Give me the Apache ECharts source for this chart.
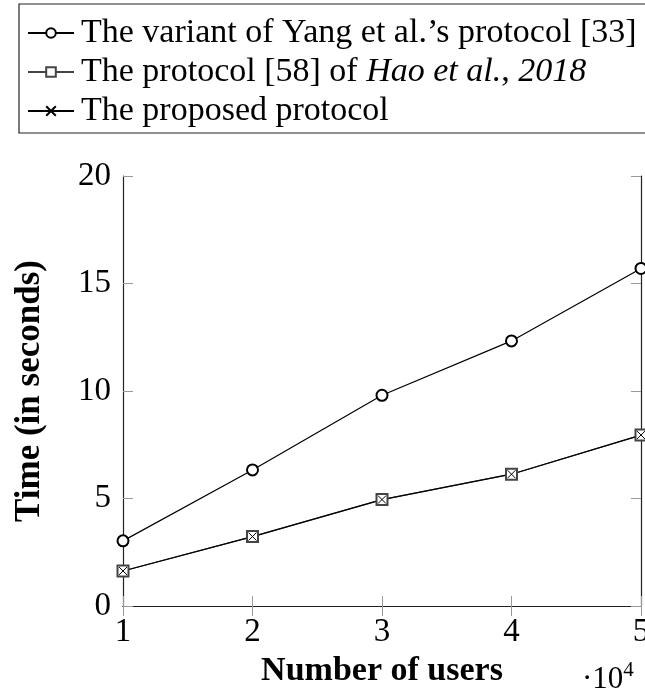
<!DOCTYPE html>
<html>
<head>
<meta charset="utf-8">
<script src="https://cdn.jsdelivr.net/npm/echarts@6/dist/echarts.min.js"></script>
<style>
  html, body { margin: 0; padding: 0; background: #fff; }
  #chart { width: 645px; height: 696px; }
</style>
</head>
<body>
<div id="chart"></div>
<script>
// 用户数 (x 10^4)
var users = [1, 2, 3, 4, 5];
var yangTimes = [3.03, 6.33, 9.8, 12.33, 15.7];
var haoTimes = [1.63, 3.23, 4.95, 6.13, 7.95];
var proposedTimes = [1.63, 3.23, 4.95, 6.13, 7.95];
var seriesNames = [
    "The variant of Yang et al.’s protocol [33]",
    "The protocol [58] of Hao et al., 2018",
    "The proposed protocol"
];
var yTicks = [0, 5, 10, 15, 20];

var serif = "Liberation Serif";

function pairs(xs, ys) {
    var out = [];
    for (var i = 0; i < xs.length; i++) {
        out.push([xs[i], ys[i]]);
    }
    return out;
}

var chart = echarts.init(document.getElementById('chart'), null, {renderer: 'canvas'});

var tickStyle = {show: true, inside: true, length: 10, lineStyle: {color: '#999', width: 1}};
var lineAxis = {show: true, lineStyle: {color: '#222', width: 1.2}};

chart.setOption({
    backgroundColor: '#fff',
    animation: false,
    grid: {left: 123, right: 4, top: 176, bottom: 90, containLabel: false, outerBoundsMode: 'none'},
    legend: {
        orient: 'vertical',
        left: 27,
        top: 16,
        itemWidth: 46,
        itemHeight: 12,
        itemGap: 5,
        padding: 0,
        data: seriesNames,
        textStyle: {
            fontFamily: serif, fontSize: 34, lineHeight: 34, color: '#000', padding: [0, 0, 0, 2],
            rich: {
                n: {fontFamily: serif, fontSize: 34, lineHeight: 34, color: '#000'},
                i: {fontFamily: serif, fontSize: 34, lineHeight: 34, color: '#000', fontStyle: 'italic'}
            }
        },
        formatter: function (name) {
            if (name === seriesNames[1]) {
                return '{n|The protocol [58] of }{i|Hao et al.}{n|, }{i|2018}';
            }
            return name;
        }
    },
    graphic: [
        {
            type: 'rect',
            shape: {x: 19, y: 4, width: 700, height: 129},
            style: {fill: 'none', stroke: '#222', lineWidth: 1.2},
            silent: true
        },
        {
            type: 'text',
            left: 582,
            top: 660,
            style: {
                text: '{d|·10}{s|4}',
                rich: {
                    d: {fontFamily: serif, fontSize: 31, fill: '#000', verticalAlign: 'bottom'},
                    s: {fontFamily: serif, fontSize: 21, fill: '#000', verticalAlign: 'top', padding: [0, 0, 14, 0]}
                }
            }
        }
    ],
    xAxis: [
        {
            type: 'value',
            min: 1,
            max: 5,
            interval: 1,
            name: 'Number of users',
            nameLocation: 'middle',
            nameGap: 48,
            nameTextStyle: {fontFamily: serif, fontSize: 34, fontWeight: 'bold', color: '#000'},
            axisLine: lineAxis,
            axisTick: tickStyle,
            splitLine: {show: false},
            axisLabel: {fontFamily: serif, fontSize: 33, color: '#000', margin: 10}
        },
        {
            type: 'value',
            position: 'top',
            min: 1,
            max: 5,
            interval: 1,
            axisLine: lineAxis,
            axisTick: tickStyle,
            splitLine: {show: false},
            axisLabel: {show: false}
        }
    ],
    yAxis: [
        {
            type: 'value',
            min: yTicks[0],
            max: yTicks[yTicks.length - 1],
            interval: 5,
            name: 'Time (in seconds)',
            nameLocation: 'middle',
            nameGap: 76,
            nameRotate: 90,
            nameTextStyle: {fontFamily: serif, fontSize: 35, fontWeight: 'bold', color: '#000'},
            axisLine: lineAxis,
            axisTick: tickStyle,
            splitLine: {show: false},
            axisLabel: {fontFamily: serif, fontSize: 33, color: '#000', margin: 12}
        },
        {
            type: 'value',
            position: 'right',
            min: yTicks[0],
            max: yTicks[yTicks.length - 1],
            interval: 5,
            axisLine: lineAxis,
            axisTick: tickStyle,
            splitLine: {show: false},
            axisLabel: {show: false}
        }
    ],
    series: [
        {
            name: seriesNames[0],
            type: 'line',
            data: pairs(users, yangTimes),
            symbol: 'emptyCircle',
            symbolSize: 11,
            lineStyle: {color: '#000', width: 1.2},
            itemStyle: {color: '#000', borderWidth: 1.2}
        },
        {
            name: seriesNames[1],
            type: 'line',
            data: pairs(users, haoTimes),
            symbol: 'emptyRect',
            symbolSize: 11,
            lineStyle: {color: '#444', width: 1.2},
            itemStyle: {color: '#444', borderWidth: 1.2}
        },
        {
            name: seriesNames[2],
            type: 'line',
            data: pairs(users, proposedTimes),
            symbol: 'path://M0,0L10,10M10,0L0,10',
            symbolSize: 8,
            lineStyle: {color: '#000', width: 1.2},
            itemStyle: {color: '#000', borderColor: '#000', borderWidth: 1}
        }
    ]
});
</script>
</body>
</html>
